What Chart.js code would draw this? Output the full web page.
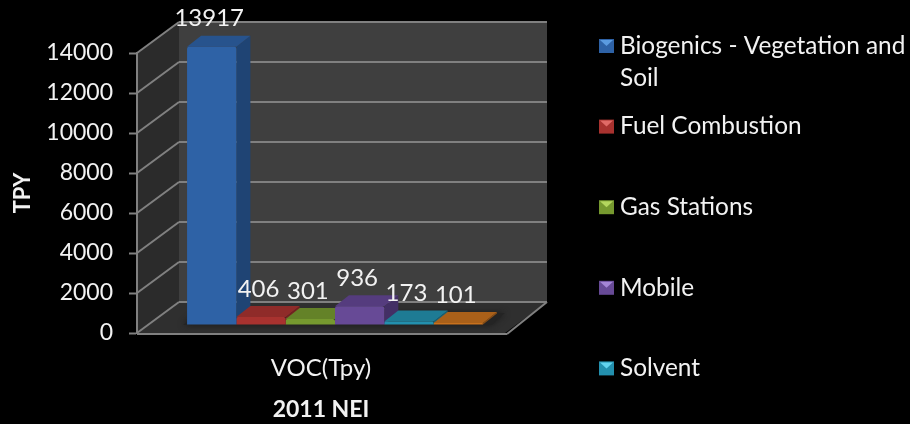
<!DOCTYPE html>
<html>
<head>
<meta charset="utf-8">
<title>2011 NEI</title>
<script src="https://cdn.jsdelivr.net/npm/chart.js@4/dist/chart.umd.min.js"></script>
<style>
  body { margin: 0; background: #000; }
  canvas { display: block; background: #000; filter: blur(0.5px); }
</style>
</head>
<body>
<canvas id="myChart" width="910" height="424"></canvas>
<script>
const categories = ['VOC(Tpy)']
// sixth legend entry is cut off in the picture, so its name is a guess and it is not shown
const seriesNames = ['Biogenics - Vegetation and Soil', 'Fuel Combustion', 'Gas Stations', 'Mobile', 'Solvent', 'Other']
const seriesValues = [13917, 406, 301, 936, 173, 101]
const frontColors = ['#2e62a6', '#a8322f', '#76992f', '#674a96', '#2390ae', '#c8711d']
const topColors = ['#27538d', '#8f2b29', '#648228', '#553c7e', '#1e7b94', '#aa6019']
const sideColors = ['#1f4474', '#742120', '#506a20', '#432f65', '#186478', '#8a4e14']
const lightColors = ['#5b9be0', '#e06a66', '#b4d65e', '#a485d6', '#62d3ee', '#f2a055']
const legendShown = 5

// how far the back wall sits from the front of the box, and the bars inside it
const wallX = 42, wallY = -31
const barX = 14, barY = -8
const depthX = 14, depthY = -11
const gridColor = '#808080'
const textColor = '#f2f2f2'
const fontName = 'Lato, "Open Sans", sans-serif'

function poly(c, pts, color) {
  c.fillStyle = color
  c.beginPath()
  pts.forEach((p, i) => i ? c.lineTo(p[0], p[1]) : c.moveTo(p[0], p[1]))
  c.closePath()
  c.fill()
}

function line(c, x1, y1, x2, y2) {
  c.beginPath()
  c.moveTo(x1, y1)
  c.lineTo(x2, y2)
  c.stroke()
}

const box3d = {
  id: 'box3d',
  afterDatasetsUpdate(chart) {
    chart.data.datasets.forEach((d, i) => {
      chart.getDatasetMeta(i).data.forEach(b => {
        b.x += barX
        b.y += barY
        b.base += barY
      })
    })
  },
  beforeDraw(chart) {
    const c = chart.ctx
    const a = chart.chartArea
    const y = chart.scales.y
    const l = a.left, r = a.right, t = a.top, b = a.bottom
    c.save()
    poly(c, [[l + wallX, t + wallY], [r + wallX, t + wallY], [r + wallX, b + wallY], [l + wallX, b + wallY]], '#3f3f3f')
    poly(c, [[l, t], [l + wallX, t + wallY], [l + wallX, b + wallY], [l, b]], '#2b2b2b')
    poly(c, [[l, b], [l + wallX, b + wallY], [r + wallX, b + wallY], [r, b]], '#2f2f2f')
    c.strokeStyle = gridColor
    c.lineWidth = 2
    y.ticks.forEach(tick => {
      const py = y.getPixelForValue(tick.value)
      line(c, l, py, l + wallX, py + wallY)
      line(c, l + wallX, py + wallY, r + wallX, py + wallY)
    })
    // front and right edge of the floor
    line(c, l, b + 1, r + 2, b + 1)
    line(c, r + 2, b + 1, r + wallX, b + wallY)
    // dark patch on the floor around the bars
    c.shadowColor = '#1a1a1a'
    c.shadowBlur = 6
    poly(c, [[l + 46, b - 8], [r - 14, b - 8], [r + 0, b - 20], [l + 60, b - 20]], '#242424')
    c.restore()
  },
  beforeDatasetsDraw(chart) {
    const c = chart.ctx
    chart.data.datasets.forEach((d, i) => {
      chart.getDatasetMeta(i).data.forEach(bar => {
        const x1 = bar.x - bar.width / 2, x2 = bar.x + bar.width / 2
        poly(c, [[x2, bar.y], [x2 + depthX, bar.y + depthY], [x2 + depthX, bar.base + depthY], [x2, bar.base]], sideColors[i])
        poly(c, [[x1, bar.y], [x1 + depthX, bar.y + depthY], [x2 + depthX, bar.y + depthY], [x2, bar.y]], topColors[i])
      })
    })
  },
  afterDraw(chart) {
    const c = chart.ctx
    c.save()
    c.textBaseline = 'middle'
    c.fillStyle = textColor
    c.textAlign = 'center'
    c.font = '24px ' + fontName
    chart.data.datasets.forEach((d, i) => {
      chart.getDatasetMeta(i).data.forEach((bar, j) => {
        c.fillText(d.data[j], bar.x - 2.5, bar.y - 28)
      })
    })
    // legend: one slot per series, long names wrap inside their slot
    c.textAlign = 'left'
    c.font = '24.4px ' + fontName
    chart.data.datasets.slice(0, legendShown).forEach((d, i) => {
      const rowY = 45 + i * 80.6
      c.fillStyle = frontColors[i]
      c.fillRect(599, rowY - 6, 15, 14)
      poly(c, [[600, rowY - 5], [613, rowY - 5], [606.5, rowY + 1]], lightColors[i])
      c.fillStyle = textColor
      const words = d.label.split(' ')
      let text = '', lineY = rowY + 1
      words.forEach(w => {
        if (c.measureText(text + w).width > 295) {
          c.fillText(text.trim(), 620, lineY)
          text = ''
          lineY += 32
        }
        text += w + ' '
      })
      c.fillText(text.trim(), 620, lineY)
    })
    c.restore()
  }
}

new Chart(document.getElementById('myChart'), {
  type: 'bar',
  data: {
    labels: categories,
    datasets: seriesNames.map((name, i) => ({
      label: name,
      data: [seriesValues[i]],
      backgroundColor: frontColors[i],
      borderRadius: 2,
      categoryPercentage: 0.804,
      barPercentage: 1,
      clip: false
    }))
  },
  options: {
    responsive: false,
    animation: false,
    layout: { padding: { top: 53, right: 405, left: 10, bottom: 1 } },
    plugins: { legend: { display: false }, tooltip: { enabled: false } },
    scales: {
      x: {
        grid: { display: false },
        border: { display: false },
        ticks: { color: textColor, font: { family: fontName, size: 24 }, padding: 13 },
        title: { display: true, text: '2011 NEI', color: textColor, font: { family: fontName, size: 23, weight: 'bold' }, padding: { top: 8, bottom: 0 } },
        afterFit: s => { s.height = 90 }
      },
      y: {
        min: 0,
        max: 14000,
        grid: { drawOnChartArea: false, color: gridColor, tickLength: 8, tickWidth: 2 },
        border: { color: gridColor, width: 2 },
        ticks: {
          stepSize: 2000,
          color: textColor,
          font: { family: fontName, size: 23 },
          padding: 16,
          callback: value => String(value)
        },
        title: { display: true, text: 'TPY', color: textColor, font: { family: fontName, size: 22, weight: 'bold' }, padding: 0 },
        afterFit: s => { s.width = 127 }
      }
    }
  },
  plugins: [box3d]
})
</script>
</body>
</html>
